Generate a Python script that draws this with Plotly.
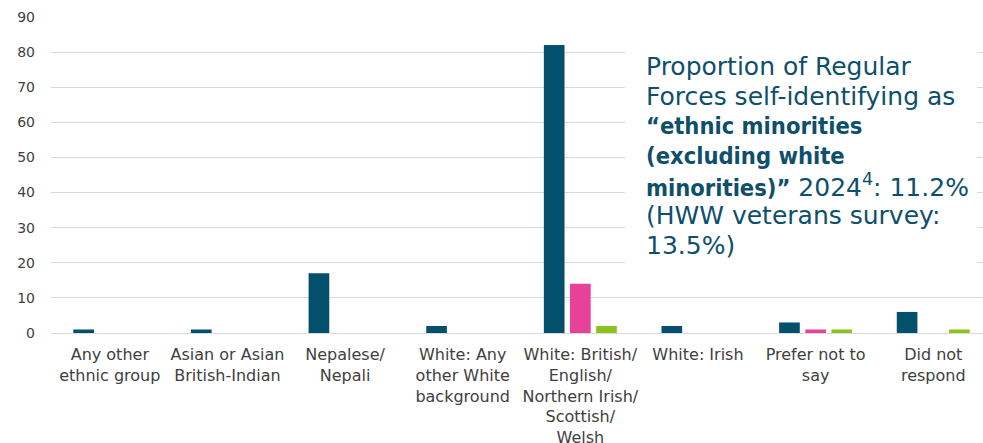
import plotly.graph_objects as go

# Ethnic background categories (x-axis) and the three series (percent)
categories = [
    "Any other<br>ethnic group",
    "Asian or Asian<br>British-Indian",
    "Nepalese/<br>Nepali",
    "White: Any<br>other White<br>background",
    "White: British/<br>English/<br>Northern Irish/<br>Scottish/<br>Welsh",
    "White: Irish",
    "Prefer not to<br>say",
    "Did not<br>respond",
]
series_names = ["Series 1", "Series 2", "Series 3"]
series_1 = [1, 1, 17, 2, 82, 2, 3, 6]
series_2 = [0, 0, 0, 0, 14, 0, 1, 0]
series_3 = [0, 0, 0, 0, 2, 0, 1, 1]
series_colors = ["#03506D", "#E8419A", "#8BC21C"]

y_ticks = [0, 10, 20, 30, 40, 50, 60, 70, 80, 90]

BOLD = '<span style="font-family:\'DejaVu Sans Condensed\';font-size:23.5px"><b>{}</b></span>'

callout_lines = [
    "Proportion of Regular",
    "Forces self-identifying as",
    BOLD.format("“ethnic minorities"),
    BOLD.format("(excluding white"),
    BOLD.format("minorities)”") + " 2024<sup>4</sup>: 11.2%",
    "(HWW veterans survey:",
    "13.5%)",
]

W, H = 983, 443
M_L, M_T, M_B = 50.8, 16.7, 110.3
PLOT_H = H - M_T - M_B
PLOT_W = W - M_L


def px_to_paper_x(px):
    return (px - M_L) / PLOT_W


def px_to_paper_y(py):
    return (H - M_B - py) / PLOT_H


fig = go.Figure()
for name, vals, col in zip(series_names, [series_1, series_2, series_3], series_colors):
    fig.add_trace(go.Bar(
        x=list(range(len(categories))),
        y=vals,
        name=name,
        marker=dict(color=col, line=dict(width=0)),
    ))

# White text panel hiding the gridlines behind the callout
fig.add_shape(
    type="rect", xref="paper", yref="paper",
    x0=px_to_paper_x(625), x1=px_to_paper_x(977),
    y0=px_to_paper_y(278), y1=px_to_paper_y(36),
    fillcolor="white", line=dict(width=0), layer="above",
)

baselines = [75, 105, 134.5, 164.5, 194, 223.5, 253.3]
for text, base in zip(callout_lines, baselines):
    fig.add_annotation(
        text=text, xref="paper", yref="paper",
        x=px_to_paper_x(644), y=px_to_paper_y(base - 8.5),
        xanchor="left", yanchor="middle", showarrow=False,
        font=dict(family="DejaVu Sans", size=25, color="#0E4F6B"),
        align="left",
    )

fig.update_layout(
    width=W, height=H,
    margin=dict(l=M_L, r=0, t=M_T, b=M_B, pad=0, autoexpand=False),
    paper_bgcolor="white", plot_bgcolor="white",
    barmode="group", bargap=0.333, bargroupgap=0.21,
    showlegend=False,
    font=dict(family="DejaVu Sans", color="#404040"),
)
fig.update_xaxes(
    tickmode="array", tickvals=list(range(len(categories))), ticktext=categories,
    range=[-0.5, 7.423], showgrid=False, zeroline=False, showline=False,
    ticks="", tickfont=dict(size=16, color="#404040"), ticklabelstandoff=10,
    tickangle=0, automargin=False,
)
fig.update_yaxes(
    range=[0, 90], tickvals=y_ticks, showgrid=True, gridcolor="#D9D9D9",
    gridwidth=1.3, zeroline=True, zerolinecolor="#D9D9D9", zerolinewidth=1.3,
    showline=False, ticks="", tickfont=dict(size=14, color="#404040"),
    ticklabelstandoff=15, automargin=False,
)

fig.write_html("out.html")
